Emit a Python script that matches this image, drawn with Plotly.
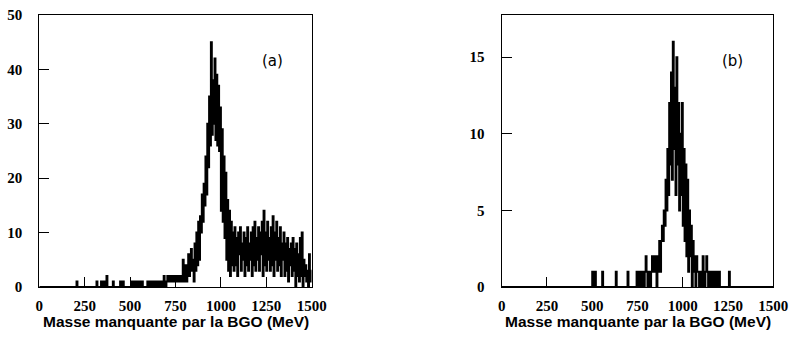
import plotly.graph_objects as go

BIN_WIDTH = 5  # MeV
N_BINS = 300   # 0 .. 1500 MeV

# Panel (a): counts per 5 MeV bin, sparse low region given as {bin_index: count}
a_sparse = {41: 1, 63: 1, 68: 1, 71: 1, 74: 2, 81: 1, 89: 1, 92: 1,
            102: 1, 104: 1, 106: 1, 108: 1, 110: 1, 113: 1,
            119: 1, 120: 1, 122: 1, 124: 1, 126: 1, 127: 1, 129: 1, 130: 1, 132: 1, 134: 1,
            137: 2, 140: 1, 141: 2, 142: 1, 143: 1, 144: 2, 145: 1, 146: 1, 147: 2, 148: 1,
            149: 2, 150: 1, 151: 2, 152: 1, 153: 2, 154: 1, 155: 2, 156: 1, 157: 2, 158: 5, 159: 1}
# Panel (a): bins 160 .. 299 (800 .. 1495 MeV)
a_main = [
    2, 4, 1, 3, 6, 2, 4, 7, 3, 5,
    1, 8, 3, 10, 4, 12, 5, 13, 10, 17,
    12, 19, 15, 24, 17, 30, 22, 35, 26, 45,
    28, 38, 30, 42, 27, 39, 26, 37, 25, 33,
    14, 29, 12, 24, 9, 21, 5, 16, 3, 14,
    2, 12, 4, 10, 3, 11, 4, 9, 2, 10,
    6, 11, 3, 8, 5, 10, 2, 9, 4, 11,
    3, 8, 5, 10, 2, 11, 4, 12, 3, 9,
    5, 11, 3, 10, 6, 12, 2, 14, 4, 10,
    3, 12, 5, 9, 3, 11, 4, 13, 2, 10,
    5, 12, 3, 9, 4, 11, 2, 8, 5, 10,
    2, 8, 3, 9, 1, 7, 4, 8, 2, 9,
    3, 7, 0, 8, 2, 6, 1, 9, 2, 10,
    0, 5, 2, 4, 1, 3, 0, 6, 1, 3,
]

# Panel (b): sparse low region
b_sparse = {100: 1, 103: 1, 111: 1, 126: 1, 139: 1,
            149: 1, 150: 1, 152: 1, 153: 1, 155: 1, 156: 1, 158: 1, 159: 2}
# Panel (b): bins 160 .. 251 (800 .. 1255 MeV)
b_main = [
    1, 0, 1, 1, 0, 1, 2, 1, 2, 1,
    2, 0, 2, 1, 3, 1, 3, 4, 3, 5,
    4, 7, 5, 9, 6, 12, 8, 14, 7, 16,
    9, 13, 6, 15, 8, 12, 5, 10, 6, 12,
    4, 9, 3, 8, 2, 7, 1, 5, 2, 4,
    0, 3, 1, 2, 0, 2, 1, 1, 0, 1,
    1, 0, 2, 1, 0, 1, 2, 1, 0, 1,
    0, 0, 1, 0, 1, 1, 0, 1, 0, 0,
    1, 0, 0, 0, 0, 0, 0, 0, 0, 0,
    0, 1,
]

x_ticks = [0, 250, 500, 750, 1000, 1250, 1500]
a_yticks = [0, 10, 20, 30, 40, 50]
b_yticks = [0, 5, 10, 15]
x_title = "Masse manquante par la BGO (MeV)"


def build(sparse, main, start=160):
    counts = [0] * N_BINS
    for k, v in sparse.items():
        counts[k] = v
    for j, v in enumerate(main):
        counts[start + j] = v
    edges = [i * BIN_WIDTH for i in range(N_BINS)] + [N_BINS * BIN_WIDTH]
    ys = counts + [counts[-1]]
    return edges, ys


xa, ya = build(a_sparse, a_main)
xb, yb = build(b_sparse, b_main)

fig = go.Figure()
line = dict(color="black", width=2.0, shape="hv")
fig.add_trace(go.Scatter(x=xa, y=ya, mode="lines", line=line, xaxis="x", yaxis="y",
                         showlegend=False, hoverinfo="skip"))
fig.add_trace(go.Scatter(x=xb, y=yb, mode="lines", line=line, xaxis="x2", yaxis="y2",
                         showlegend=False, hoverinfo="skip"))

W, H = 790, 337
tickfont = dict(family="Liberation Serif", size=15, color="black", weight="bold")
titlefont = dict(family="Liberation Sans", size=15.5, color="black", weight="bold")

def xax(domain, anchor):
    return dict(domain=domain, anchor=anchor, range=[0, 1500], tickvals=x_ticks,
                ticks="inside", ticklen=10, tickwidth=1, tickcolor="black",
                showline=True, linecolor="black", linewidth=1.2, mirror=True,
                showgrid=False, zeroline=False, tickfont=tickfont, automargin=False,
                ticklabeloverflow="allow", ticklabelstandoff=5)

def yax(domain, anchor, rng, vals):
    return dict(domain=domain, anchor=anchor, range=rng, tickvals=vals,
                ticks="inside", ticklen=10, tickwidth=1, tickcolor="black",
                showline=True, linecolor="black", linewidth=1.2, mirror=True,
                showgrid=False, zeroline=False, tickfont=tickfont, automargin=False,
                ticklabeloverflow="allow", ticklabelstandoff=13)

xa_dom = [39.3 / W, 311.7 / W]
xb_dom = [501.7 / W, 773.3 / W]
ydom = [1 - 287 / H, 1 - 15 / H]
title_y = 1 - 321.0 / H
fig.update_layout(
    width=W, height=H, margin=dict(l=0, r=0, t=0, b=0),
    paper_bgcolor="white", plot_bgcolor="white",
    xaxis=xax(xa_dom, "y"),
    yaxis=yax(ydom, "x", [0, 50], a_yticks),
    xaxis2=xax(xb_dom, "y2"),
    yaxis2=yax(ydom, "x2", [0, 17.75], b_yticks),
    annotations=[
        dict(text="(a)", x=1282, y=41.5, xref="x", yref="y", showarrow=False,
             font=dict(family="DejaVu Sans", size=15, color="black")),
        dict(text="(b)", x=1276, y=14.74, xref="x2", yref="y2", showarrow=False,
             font=dict(family="DejaVu Sans", size=15, color="black")),
        dict(text=x_title, x=sum(xa_dom) / 2, y=title_y, xref="paper", yref="paper",
             xanchor="center", yanchor="middle", showarrow=False, font=titlefont),
        dict(text=x_title, x=sum(xb_dom) / 2, y=title_y, xref="paper", yref="paper",
             xanchor="center", yanchor="middle", showarrow=False, font=titlefont),
    ],
)

fig.write_html("out.html", config={"displayModeBar": False},
               post_script="document.body.style.margin='0';")
